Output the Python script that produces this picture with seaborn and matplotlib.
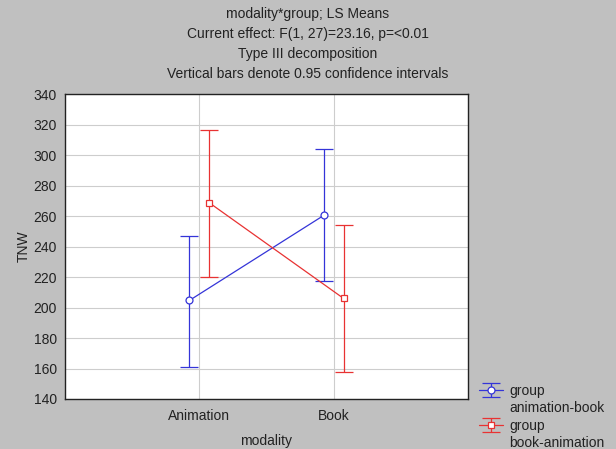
import matplotlib
matplotlib.use("Agg")
import matplotlib.pyplot as plt
from matplotlib.lines import Line2D
import seaborn as sns
import numpy as np
import pandas as pd

categories = ["Animation", "Book"]
group_names = ["animation-book", "book-animation"]
means_ab = [204.7, 260.5]
lower_ab = [160.7, 217.4]
upper_ab = [247.1, 303.8]
means_ba = [268.8, 206.0]
lower_ba = [220.4, 157.9]
upper_ba = [316.5, 253.9]
yticks = [140, 160, 180, 200, 220, 240, 260, 280, 300, 320, 340]
titles = ["modality*group; LS Means",
          "Current effect: F(1, 27)=23.16, p=<0.01",
          "Type III decomposition",
          "Vertical bars denote 0.95 confidence intervals"]

sns.set_style("whitegrid")
plt.rcParams['font.family'] = ['Liberation Sans', 'DejaVu Sans']
FS = 10
TXT = "#222222"

fig = plt.figure(figsize=(6.16, 4.49), dpi=100, facecolor="#c0c0c0")
ax = fig.add_axes([65/616, 1-399/449, 403/616, (399-94.3)/449])
ax.set_facecolor("white")

offset = 0.074
x = np.arange(len(categories))
series = [
    (means_ab, lower_ab, upper_ab, "#3434d8", "o", -offset),
    (means_ba, lower_ba, upper_ba, "#e83232", "s", offset),
]
containers = []
for m, lo, up, col, mk, off in series:
    m = np.array(m); lo = np.array(lo); up = np.array(up)
    c = ax.errorbar(x + off, m, yerr=[m - lo, up - m], fmt="-", color=col, lw=0.9,
                    marker=mk, markersize=5, markerfacecolor="white", markeredgecolor=col,
                    markeredgewidth=0.9, capsize=6.5, capthick=0.9, elinewidth=0.9,
                    zorder=3)
    containers.append(c)

ax.set_xlim(-1, 2)
ax.set_ylim(140, 340)
ax.set_xticks(x)
ax.set_xticklabels(categories)
ax.set_yticks(yticks)
ax.grid(True, color="#cdcdcd", lw=0.8)
ax.tick_params(direction="in", length=3, labelsize=FS, colors=TXT,
               labelcolor=TXT, pad=6)
ax.tick_params(axis="x", pad=7)
for s in ax.spines.values():
    s.set_color(TXT)
    s.set_linewidth(1.0)
ax.set_xlabel("modality", fontsize=FS, color=TXT, labelpad=8)
ax.set_ylabel("TNW", fontsize=FS, color=TXT, labelpad=2)

for i, t in enumerate(titles):
    fig.text(0.5, 1 - (14 + 20*i)/449, t, ha="center", va="center",
             fontsize=FS, color=TXT)

blank = Line2D([], [], alpha=0)
handles = [containers[0], blank, containers[1], blank]
labels = ["group", group_names[0], "group", group_names[1]]
leg = fig.legend(handles, labels, loc="upper left",
                 bbox_to_anchor=(479/616, 1-384/449),
                 frameon=False, fontsize=FS, handlelength=1.75,
                 labelspacing=0.24, handletextpad=0.45, borderaxespad=0,
                 borderpad=0)
for t in leg.get_texts():
    t.set_color(TXT)

fig.savefig("out.png", dpi=100, facecolor=fig.get_facecolor())
